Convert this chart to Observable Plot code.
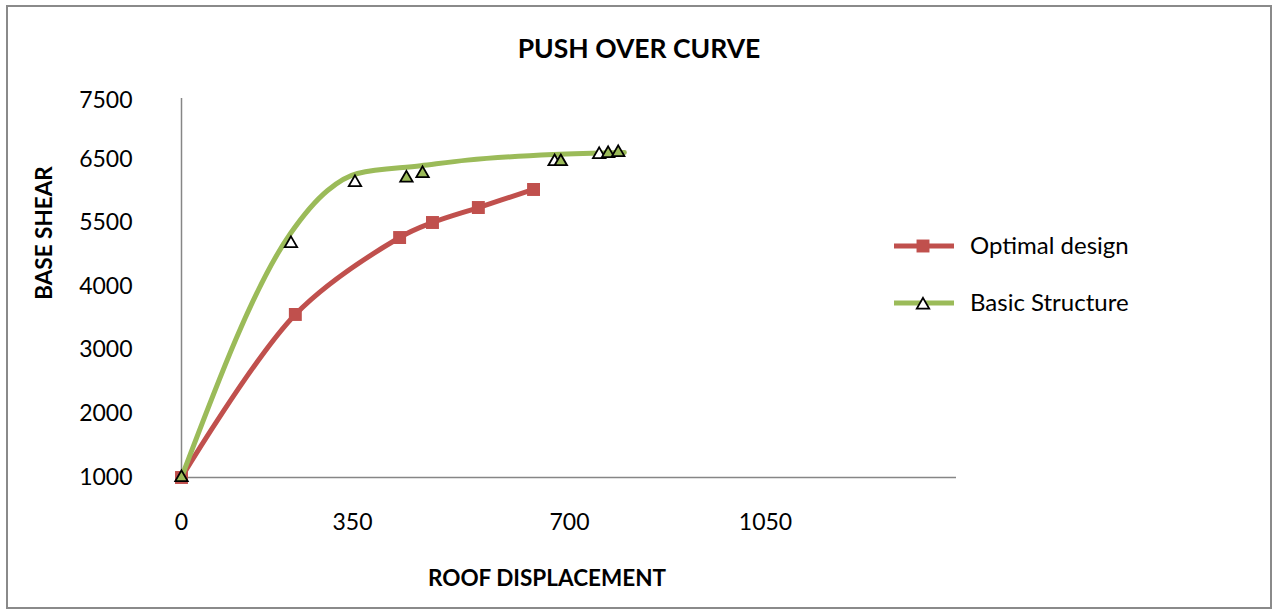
<!DOCTYPE html>
<html>
<head>
<meta charset="utf-8">
<script src="https://cdn.jsdelivr.net/npm/d3@7"></script>
<script src="https://cdn.jsdelivr.net/npm/@observablehq/plot@0.6"></script>
<style>
  html, body { margin: 0; padding: 0; background: #fff; }
  #wrap { position: relative; width: 1278px; height: 610px; overflow: hidden; font-family: Lato, "Open Sans", sans-serif; }
  #frame { position: absolute; left: 6px; top: 5px; width: 1266px; height: 604px; box-sizing: border-box; border: 2px solid #8a8a8a; }
  #wrap > svg { position: absolute; left: 0; top: 0; }
</style>
</head>
<body>
<div id="wrap"><div id="frame"></div></div>
<script>
// ---- data ----
const chartTitle = "PUSH OVER CURVE";
const xTitle = "ROOF DISPLACEMENT";
const yTitle = "BASE SHEAR";
const xTicks = [0, 350, 700, 1050];
const yTicks = [1000, 2000, 3000, 4000, 5500, 6500, 7500];

const seriesNames = ["Optimal design", "Basic Structure"];

// Optimal design (red, square markers)
const optimalX = [0, 233, 426, 479, 553, 642];
const optimalY = [1000, 3556, 5148, 5500, 5738, 6024];

// Basic Structure smoothed line
const basicLineX = [0, 223, 299, 358, 460, 535, 674, 798];
const basicLineY = [1000, 5242, 6008, 6278, 6400, 6490, 6585, 6619];

// Basic Structure triangle markers (hollow and filled groups)
const basicHollowX = [224, 354, 676, 753];
const basicHollowY = [5008, 6135, 6466, 6585];
const basicFilledX = [0, 437, 463, 686, 769, 787];
const basicFilledY = [1000, 6206, 6278, 6466, 6602, 6619];

// ---- build tables ----
const zip = (xs, ys) => xs.map((x, i) => ({x, y: ys[i]}));
const optimal = zip(optimalX, optimalY);
const basicLine = zip(basicLineX, basicLineY);
const basicHollow = zip(basicHollowX, basicHollowY);
const basicFilled = zip(basicFilledX, basicFilledY);

const RED = "#C0504D", GREEN = "#9BBB59", AXIS = "#868686";

const W = 1278, H = 610;
const chart = Plot.plot({
  width: W, height: H,
  marginLeft: 182, marginRight: 322, marginTop: 98, marginBottom: 133,
  style: {fontFamily: "Lato, 'Open Sans', sans-serif", fontSize: "23px", color: "#000", background: "transparent", overflow: "visible"},
  x: {type: "linear", domain: [0, 350, 700, 1050, 1400], range: [181, 352, 569, 765, 956]},
  y: {type: "linear", domain: yTicks, range: [477, 413, 349, 286, 222, 159, 100]},
  marks: [
    Plot.ruleY([1000], {stroke: AXIS, strokeWidth: 1.5}),
    Plot.ruleX([0], {stroke: AXIS, strokeWidth: 1.5}),
    Plot.axisX({ticks: xTicks, tickSize: 0, tickPadding: 36, label: null, tickFormat: d => String(d)}),
    Plot.axisY({ticks: yTicks, tickSize: 0, tickPadding: 50, label: null, tickFormat: d => String(d)}),
    Plot.line(optimal, {x: "x", y: "y", stroke: RED, strokeWidth: 5, curve: "catmull-rom"}),
    Plot.dot(optimal, {x: "x", y: "y", symbol: "square", fill: RED, r: 7.3}),
    Plot.line(basicLine, {x: "x", y: "y", stroke: GREEN, strokeWidth: 5, curve: "monotone-x"}),
    Plot.dot(basicHollow, {x: "x", y: "y", symbol: "triangle", fill: "white", stroke: "black", strokeWidth: 1.8, r: 4.6}),
    Plot.dot(basicFilled, {x: "x", y: "y", symbol: "triangle", fill: GREEN, stroke: "black", strokeWidth: 1.8, r: 4.6})
  ]
});
document.getElementById("wrap").appendChild(chart);

// ---- overlay: titles and legend ----
const ov = d3.select("#wrap").append("svg")
  .attr("width", W).attr("height", H)
  .style("font-family", "Lato, 'Open Sans', sans-serif");

ov.append("text").attr("x", 639).attr("y", 58).attr("text-anchor", "middle")
  .attr("font-weight", "bold").attr("font-size", 26.5).text(chartTitle);
ov.append("text").attr("x", 547).attr("y", 586).attr("text-anchor", "middle")
  .attr("font-weight", "bold").attr("font-size", 22.5).text(xTitle);
ov.append("text").attr("transform", "translate(52,233) rotate(-90)").attr("text-anchor", "middle")
  .attr("font-weight", "bold").attr("font-size", 22.5).text(yTitle);

const legendRows = [
  {name: seriesNames[0], color: RED, symbol: d3.symbolSquare, size: Math.PI * 7.3 * 7.3, fill: RED, stroke: "none", y: 246},
  {name: seriesNames[1], color: GREEN, symbol: d3.symbolTriangle, size: Math.PI * 4.6 * 4.6, fill: "white", stroke: "black", y: 303}
];
const lg = ov.append("g");
legendRows.forEach(r => {
  lg.append("line").attr("x1", 894).attr("x2", 954).attr("y1", r.y).attr("y2", r.y)
    .attr("stroke", r.color).attr("stroke-width", 5);
  lg.append("path").attr("d", d3.symbol(r.symbol, r.size)())
    .attr("transform", `translate(923,${r.y + (r.stroke === "none" ? 0 : 2)})`)
    .attr("fill", r.fill).attr("stroke", r.stroke).attr("stroke-width", 1.8);
  lg.append("text").attr("x", 970).attr("y", r.y + 8).attr("font-size", 24).text(r.name);
});
</script>
</body>
</html>
